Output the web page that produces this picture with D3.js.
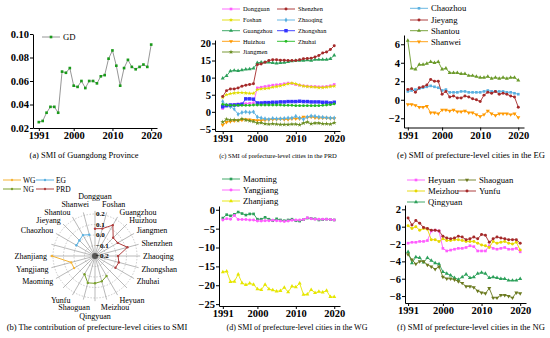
<!DOCTYPE html>
<html>
<head>
<meta charset="utf-8">
<script src="https://cdn.jsdelivr.net/npm/d3@7"></script>
<style>
  body { margin: 0; background: #fff; }
  text { font-family: "Liberation Serif", "Times New Roman", serif; }
</style>
</head>
<body>
<svg id="fig" width="550" height="338"></svg>
<script>
// years on every x axis
var years = [1991, 1992, 1993, 1994, 1995, 1996, 1997, 1998, 1999, 2000,
             2001, 2002, 2003, 2004, 2005, 2006, 2007, 2008, 2009, 2010,
             2011, 2012, 2013, 2014, 2015, 2016, 2017, 2018, 2019, 2020];
var yearTicks = [1991, 2000, 2010, 2020];

// (a) Guangdong
var gd = [0.025, 0.026, 0.033, 0.038, 0.038, 0.033, 0.068, 0.067, 0.071, 0.056,
          0.055, 0.060, 0.054, 0.060, 0.060, 0.058, 0.064, 0.065, 0.079, 0.086,
          0.073, 0.056, 0.071, 0.078, 0.072, 0.070, 0.072, 0.074, 0.072, 0.091];

// (c) PRD
var dongguan = [1.0, 1.8, 2.0, 2.2, 2.3, 2.4, 2.4, 2.5, 2.6, 7.0, 7.2, 7.4, 7.6, 7.8, 7.9,
                8.0, 8.2, 8.4, 8.3, 8.0, 7.8, 7.6, 7.5, 7.4, 7.4, 7.3, 7.3, 7.4, 7.6, 8.0];
var foshan = [4.2, 5.0, 5.3, 5.5, 5.6, 5.6, 5.5, 5.4, 5.4, 6.5, 6.7, 6.8, 6.9, 7.2, 7.4,
              7.6, 7.9, 8.2, 8.4, 8.2, 7.8, 7.5, 7.4, 7.3, 7.2, 7.1, 7.1, 7.2, 7.4, 7.5];
var guangzhou = [9.8, 10.5, 11.9, 12.1, 12.0, 12.2, 12.4, 12.5, 12.7, 14.3, 14.5, 14.5, 14.5, 14.3, 14.2,
                 14.3, 14.4, 14.6, 14.8, 15.0, 15.0, 15.0, 15.1, 15.0, 15.3, 15.3, 15.3, 15.3, 15.5, 16.5];
var huizhou = [-3.8, -3.0, -2.8, -2.6, -2.5, -2.4, -2.2, -2.3, -2.4, -2.5, -2.5, -2.4, -2.3, -2.2, -2.2,
               -2.1, -2.2, -2.2, -2.0, -2.0, -2.0, -1.5, -1.6, -1.5, -1.7, -1.8, -1.8, -1.8, -1.9, -1.9];
var jiangmen = [-3.0, -2.2, -2.4, -2.3, -2.5, -2.0, -2.4, -2.6, -2.8, -3.3, -3.2, -3.5, -3.6, -3.5, -3.6,
                -3.7, -3.7, -3.7, -3.6, -3.6, -3.8, -3.3, -3.0, -3.5, -3.3, -3.3, -3.5, -3.5, -3.6, -3.2];
var shenzhen = [4.5, 6.2, 6.7, 6.7, 7.0, 7.5, 7.8, 8.0, 8.2, 13.8, 14.0, 14.5, 15.0, 15.2, 15.2,
                15.1, 15.1, 15.0, 15.0, 15.0, 15.2, 15.5, 15.6, 15.7, 16.0, 16.5, 17.2, 17.5, 18.2, 19.3];
var zhaoqing = [3.0, 2.0, 1.5, 0.8, -0.7, -0.2, 0.0, -0.2, 0.0, -1.5, -1.8, -2.0, -2.2, -1.9, -2.0,
                -2.0, -1.9, -1.8, -1.8, -1.3, -1.8, -2.2, -1.5, -1.2, -1.3, -1.5, -1.6, -1.7, -1.8, -1.8];
var zhongshan = [1.5, 1.8, 2.0, 2.0, 2.1, 2.2, 3.8, 3.8, 3.7, 2.6, 2.6, 2.7, 2.7, 2.8, 2.8,
                 2.9, 2.9, 3.0, 3.0, 3.0, 3.1, 3.0, 3.0, 2.9, 2.9, 2.9, 2.8, 2.8, 2.6, 2.8];
var zhuhai = [2.2, 2.0, 1.9, 1.9, 1.9, 1.9, 1.9, 1.9, 2.0, 2.0, 2.0, 2.0, 2.0, 2.0, 2.0,
              2.0, 1.9, 1.9, 1.9, 1.8, 1.8, 1.8, 1.8, 1.8, 1.8, 1.8, 1.9, 2.0, 2.1, 2.3];

// (e) EG
var chaozhou = [0.9, 1.0, 1.1, 1.2, 1.3, 1.4, 1.5, 1.4, 1.3, 1.0, 1.1, 0.8, 0.8, 0.8, 0.9,
                0.9, 0.8, 0.8, 0.8, 0.8, 0.9, 1.0, 0.9, 0.9, 0.9, 0.9, 0.8, 0.8, 0.7, 0.6];
var jieyang = [1.1, 1.2, 0.8, 1.3, 1.4, 1.6, 2.2, 2.0, 2.0, 0.6, 0.9, 0.3, 0.4, 0.2, 0.2,
               0.4, 0.3, 0.1, 0.0, -0.2, 0.5, 0.8, 0.7, 0.9, 0.6, 0.7, 0.6, 0.4, 0.3, -0.8];
var shantou = [6.4, 3.4, 3.3, 3.8, 3.8, 3.9, 4.1, 4.0, 4.1, 3.3, 3.4, 2.9, 2.9, 2.9, 2.8,
               2.8, 2.6, 2.6, 2.5, 2.4, 2.4, 2.5, 2.3, 2.4, 2.3, 2.4, 2.3, 2.4, 2.4, 2.1];
var shanwei = [-0.5, -0.5, -0.6, -0.8, -0.8, -0.7, -1.4, -1.4, -1.5, -1.1, -1.1, -1.2, -1.1, -1.3, -1.3,
               -1.2, -1.4, -1.4, -1.6, -1.8, -1.6, -1.2, -1.5, -1.7, -1.5, -1.5, -1.5, -1.6, -1.5, -1.9];

// (d) WG
var maoming = [-2.2, -1.3, -1.6, -1.2, -0.6, -1.0, -1.4, -1.1, -1.1, -2.5, -2.5, -2.0, -2.5, -2.9, -2.4,
               -2.7, -2.9, -2.7, -2.5, -2.9, -3.0, -2.6, -2.2, -2.3, -2.4, -2.7, -2.6, -2.5, -2.6, -2.7];
var yangjiang = [-2.7, -2.4, -2.5, -1.5, -2.6, -2.6, -2.6, -2.7, -2.7, -3.0, -3.0, -2.9, -2.9, -2.8, -2.9,
                 -3.0, -3.1, -3.0, -2.8, -2.7, -2.7, -2.6, -2.1, -2.4, -2.5, -2.5, -2.5, -2.5, -2.6, -2.7];
var zhanjiang = [-16.5, -16.3, -19.1, -19.0, -17.1, -19.4, -19.9, -19.5, -19.8, -21.0, -21.2, -19.8, -21.0, -21.3, -21.6,
                 -21.5, -20.6, -21.8, -20.3, -20.5, -19.5, -22.5, -22.4, -21.2, -22.0, -21.7, -21.9, -21.4, -23.1, -23.1];

// (f) NG
var heyuan = [-1.9, -1.8, -1.8, -1.7, -1.7, -1.6, -0.5, -0.4, -0.5, -2.5, -2.8, -2.7, -2.6, -2.5, -2.5,
              -2.4, -2.2, -2.3, -2.8, -2.8, -2.8, -2.2, -2.5, -2.6, -2.5, -2.4, -2.6, -2.6, -2.5, -2.9];
var meizhou = [0.1, -0.2, 0.0, -0.4, -0.2, -0.3, -1.5, -1.5, -1.7, -1.4, -1.6, -1.6, -1.5, -1.5, -1.6,
               -1.7, -1.7, -1.7, -1.9, -2.1, -2.2, -2.4, -1.7, -1.9, -1.8, -1.7, -1.9, -2.0, -1.8, -2.7];
var qingyuan = [-2.9, -4.2, -3.5, -3.6, -4.1, -3.6, -3.9, -4.2, -4.3, -5.2, -5.4, -5.6, -5.9, -6.1, -5.8,
                -5.5, -5.9, -5.8, -5.4, -5.3, -5.4, -5.9, -5.8, -5.9, -6.0, -6.0, -6.2, -6.2, -6.2, -6.0];
var shaoguan = [-3.2, -3.8, -4.3, -4.0, -4.0, -4.4, -4.6, -4.9, -4.6, -5.8, -6.0, -6.0, -6.1, -6.3, -6.5,
                -6.9, -6.9, -7.0, -7.4, -7.6, -7.7, -7.1, -8.2, -8.2, -7.9, -7.9, -8.0, -8.2, -7.6, -7.7];
var yunfu = [1.0, 0.2, 0.7, 0.4, -0.1, -0.2, -0.4, -0.4, -0.5, -1.1, -1.3, -1.4, -1.3, -1.1, -1.2,
             -1.5, -1.4, -1.2, -1.4, -0.9, -1.0, -1.8, -1.4, -1.2, -1.3, -1.4, -1.5, -1.5, -1.5, -1.9];

// (b) radar: axes clockwise from top, "" = empty spoke between groups
var radarAxes = ["Dongguan", "Foshan", "Guangzhou", "Huizhou", "Jiangmen", "Shenzhen", "Zhaoqing", "Zhongshan", "Zhuhai", "",
                 "Heyuan", "Meizhou", "Qingyuan", "Shaoguan", "Yunfu", "",
                 "Maoming", "Yangjiang", "Zhanjiang", "",
                 "Chaozhou", "Jieyang", "Shantou", "Shanwei"];
var prdCities = ["Dongguan", "Foshan", "Guangzhou", "Huizhou", "Jiangmen", "Shenzhen", "Zhaoqing", "Zhongshan", "Zhuhai"];
var prdContrib = [0.06, 0.07, 0.14, 0.045, 0.05, 0.12, 0.02, 0.035, 0.025];
var ngCities = ["Heyuan", "Meizhou", "Qingyuan", "Shaoguan", "Yunfu"];
var ngContrib = [0.02, 0.05, 0.06, 0.065, 0.0];
var wgCities = ["Maoming", "Yangjiang", "Zhanjiang"];
var wgContrib = [0.03, 0.035, 0.21];
var egCities = ["Chaozhou", "Jieyang", "Shantou", "Shanwei"];
var egContrib = [0.005, 0.01, 0.03, 0.01];
var radarTicks = [-0.2, -0.1, 0.0, 0.1, 0.2];

var svg = d3.select("#fig");
var SERIF = '"Liberation Serif", "Times New Roman", serif';

function fitText(t, w) {
  t.attr("font-size", 10);
  var L = t.node().getComputedTextLength();
  t.attr("font-size", 10 * w / L);
}

function drawMarker(g, s, px, py) {
  g.append("path")
    .attr("d", d3.symbol(s.symbol, s.size || 7)())
    .attr("transform", "translate(" + px + "," + py + ") rotate(" + (s.rot || 0) + ")")
    .attr("fill", s.color);
}

function linePanel(p) {
  var x = d3.scaleLinear().domain(p.xDomain).range([p.left, p.right]);
  var y = d3.scaleLinear().domain(p.yDomain).range([p.bottom, p.top]);
  var g = svg.append("g");

  var ax = g.append("g").attr("transform", "translate(0," + p.bottom + ")")
    .call(d3.axisBottom(x).tickValues(yearTicks).tickFormat(d3.format("d"))
      .tickSize(3).tickSizeOuter(0).tickPadding(1));
  var ay = g.append("g").attr("transform", "translate(" + p.left + ",0)")
    .call(d3.axisLeft(y).tickValues(p.yTicks).tickFormat(p.fmt || d3.format("d"))
      .tickSize(3).tickSizeOuter(0).tickPadding(1));
  [ax, ay].forEach(function(a) {
    a.selectAll("text").attr("font-family", SERIF).attr("font-weight", "bold")
      .attr("font-size", 10.5).attr("fill", "#000");
    a.selectAll("line").attr("stroke", "#000");
    a.select(".domain").attr("stroke", "#000");
  });

  var line = d3.line().x(function(d, i) { return x(years[i]); }).y(function(d) { return y(d); });
  p.series.forEach(function(s) {
    g.append("path").datum(s.values).attr("d", line)
      .attr("fill", "none").attr("stroke", s.line || s.color).attr("stroke-width", 0.9);
    s.values.forEach(function(v, i) { drawMarker(g, s, x(years[i]), y(v)); });
  });

  p.series.forEach(function(s) {
    if (!s.leg) return;
    var lx = s.leg[0], ly = s.leg[1];
    g.append("line").attr("x1", lx).attr("x2", lx + 18).attr("y1", ly).attr("y2", ly)
      .attr("stroke", s.line || s.color).attr("stroke-width", 0.9);
    drawMarker(g, s, lx + 9, ly);
    g.append("text").attr("x", lx + 21).attr("y", ly).attr("dy", "0.35em")
      .attr("font-size", p.legendSize).attr("fill", "#000").text(s.name);
  });

  var t = g.append("text").attr("x", p.title[1]).attr("y", p.title[2])
    .attr("text-anchor", "middle").attr("fill", "#000").text(p.title[0]);
  fitText(t, p.title[3]);
}

var SQ = d3.symbolSquare, TRI = d3.symbolTriangle, CIR = d3.symbolCircle,
    DIA = d3.symbolDiamond, STAR = d3.symbolStar;

// (a)
linePanel({
  left: 33, right: 157, top: 34, bottom: 128,
  xDomain: [1989.5, 2021.5], yDomain: [0.02, 0.10],
  yTicks: [0.02, 0.04, 0.06, 0.08, 0.10], fmt: d3.format(".2f"),
  legendSize: 8.7,
  series: [{ name: "GD", values: gd, color: "#1a9a1a", line: "#8a8a8a", symbol: SQ, leg: [42, 37] }],
  title: ["(a) SMI of Guangdong Province", 84, 158, 109]
});

// (c)
linePanel({
  left: 215, right: 340, top: 40, bottom: 131,
  xDomain: [1989, 2021.5], yDomain: [-5.6, 21],
  yTicks: [-5, 0, 5, 10, 15, 20],
  legendSize: 6.4,
  series: [
    { name: "Dongguan", values: dongguan, color: "#ff5cff", symbol: SQ, leg: [222, 9] },
    { name: "Foshan", values: foshan, color: "#e0dc00", symbol: STAR, size: 6, leg: [222, 20] },
    { name: "Guangzhou", values: guangzhou, color: "#2ca05a", symbol: TRI, leg: [222, 30.7] },
    { name: "Huizhou", values: huizhou, color: "#ff9900", symbol: TRI, rot: 180, leg: [222, 41.3] },
    { name: "Jiangmen", values: jiangmen, color: "#6b8e23", symbol: STAR, leg: [222, 52] },
    { name: "Shenzhen", values: shenzhen, color: "#a52a2a", symbol: CIR, leg: [277, 9] },
    { name: "Zhaoqing", values: zhaoqing, color: "#5ab0e0", symbol: DIA, leg: [277, 20] },
    { name: "Zhongshan", values: zhongshan, color: "#3333ff", symbol: SQ, size: 12, leg: [277, 30.7] },
    { name: "Zhuhai", values: zhuhai, color: "#22bb22", symbol: CIR, size: 6, leg: [277, 41.3] }
  ],
  title: ["(c) SMI of prefecture-level cities in the PRD", 278, 158, 118]
});

// (e)
linePanel({
  left: 404, right: 524, top: 35, bottom: 127.5,
  xDomain: [1990, 2021.5], yDomain: [-3, 7],
  yTicks: [-2, 0, 2, 4, 6],
  legendSize: 8.7,
  series: [
    { name: "Chaozhou", values: chaozhou, color: "#5ab0e0", symbol: SQ, leg: [410, 8.3] },
    { name: "Jieyang", values: jieyang, color: "#a52a2a", symbol: CIR, leg: [410, 20] },
    { name: "Shantou", values: shantou, color: "#6b9a2a", symbol: TRI, leg: [410, 30.7] },
    { name: "Shanwei", values: shanwei, color: "#ff9900", symbol: TRI, rot: 180, leg: [410, 41.7] }
  ],
  title: ["(e) SMI of prefecture-level cities in the EG", 471, 158, 148]
});

// (d)
linePanel({
  left: 219, right: 340, top: 206, bottom: 306,
  xDomain: [1990, 2021.5], yDomain: [-25.5, 1],
  yTicks: [-25, -20, -15, -10, -5, 0],
  legendSize: 8.7,
  series: [
    { name: "Maoming", values: maoming, color: "#2ca05a", symbol: SQ, leg: [222, 179] },
    { name: "Yangjiang", values: yangjiang, color: "#ff5cff", symbol: CIR, leg: [222, 190] },
    { name: "Zhanjiang", values: zhanjiang, color: "#e6e600", symbol: TRI, leg: [222, 201] }
  ],
  title: ["(d) SMI of prefecture-level cities in the WG", 297, 330, 141]
});

// (f)
linePanel({
  left: 405, right: 526, top: 205, bottom: 303,
  xDomain: [1990.2, 2021.5], yDomain: [-8.8, 2.5],
  yTicks: [-8, -6, -4, -2, 0, 2],
  legendSize: 8.7,
  series: [
    { name: "Heyuan", values: heyuan, color: "#ff5cff", symbol: SQ, leg: [407, 180] },
    { name: "Meizhou", values: meizhou, color: "#e6d800", symbol: CIR, leg: [407, 191] },
    { name: "Qingyuan", values: qingyuan, color: "#2ca05a", symbol: TRI, leg: [407, 202] },
    { name: "Shaoguan", values: shaoguan, color: "#6b7a20", symbol: TRI, rot: 180, leg: [458, 180] },
    { name: "Yunfu", values: yunfu, color: "#a52a2a", symbol: CIR, leg: [458, 191] }
  ],
  title: ["(f) SMI of prefecture-level cities in the NG", 471, 330, 148]
});

// (b) radar
(function() {
  var cx = 95, cy = 256;
  var g = svg.append("g");
  var r = d3.scaleLinear().domain([-0.2, 0.2]).range([0, 42]);
  var ang = d3.scaleLinear().domain([0, radarAxes.length]).range([0, 2 * Math.PI]);

  radarTicks.slice(1).forEach(function(t) {
    g.append("circle").attr("cx", cx).attr("cy", cy).attr("r", r(t))
      .attr("fill", "none").attr("stroke", "#aaa").attr("stroke-width", 0.6)
      .attr("stroke-dasharray", "1.5,1.5");
  });
  radarAxes.forEach(function(name, i) {
    var a = ang(i), R = r(0.23);
    g.append("line").attr("x1", cx).attr("y1", cy)
      .attr("x2", cx + R * Math.sin(a)).attr("y2", cy - R * Math.cos(a))
      .attr("stroke", "#8a8a8a").attr("stroke-width", 0.6);
  });
  g.append("circle").attr("cx", cx).attr("cy", cy).attr("r", 3).attr("fill", "#555");

  radarTicks.forEach(function(t) {
    g.append("text").attr("x", cx + 1).attr("y", cy - r(t)).attr("dy", "0.35em")
      .attr("font-size", 7).attr("font-weight", "bold").attr("fill", "#000")
      .text(d3.format(".1f")(t));
  });

  var groups = [
    { cities: wgCities, vals: wgContrib, color: "#f5b335" },
    { cities: egCities, vals: egContrib, color: "#5ab0e0" },
    { cities: ngCities, vals: ngContrib, color: "#7aa02c" },
    { cities: prdCities, vals: prdContrib, color: "#b04040" }
  ];
  var radial = d3.lineRadial()
    .angle(function(d) { return ang(radarAxes.indexOf(d[0])); })
    .radius(function(d) { return r(d[1]); });
  groups.forEach(function(gr) {
    var pts = gr.cities.map(function(c, i) { return [c, gr.vals[i]]; });
    g.append("path").datum(pts).attr("d", radial)
      .attr("transform", "translate(" + cx + "," + cy + ")")
      .attr("fill", "none").attr("stroke", gr.color).attr("stroke-width", 1);
    pts.forEach(function(d) {
      var a = ang(radarAxes.indexOf(d[0])), rr = r(d[1]);
      g.append("circle").attr("cx", cx + rr * Math.sin(a)).attr("cy", cy - rr * Math.cos(a))
        .attr("r", 1.2).attr("fill", gr.color);
    });
  });

  // city labels, pushed out from the spoke ends
  radarAxes.forEach(function(name, i) {
    if (!name) return;
    var a = ang(i), s = Math.sin(a), c = Math.cos(a), R = 47;
    var t = g.append("text").attr("font-size", 8).attr("fill", "#000")
      .attr("text-anchor", "middle").attr("dy", "0.35em").text(name);
    var w = t.node().getComputedTextLength();
    var sg = s > 0.01 ? 1 : (s < -0.01 ? -1 : 0);
    var px = cx + R * s + sg * (w / 2 + 1) * Math.min(1, 2 * Math.abs(s));
    var py = cy - R * c - 4 * c;
    if (Math.abs(s) < 0.05) py -= 9 * c;
    else if (Math.abs(c) > 0.95) py -= 2.5 * c;
    t.attr("x", px).attr("y", py);
  });

  // legend
  var leg = [["WG", "#f5b335", 3, 180], ["EG", "#5ab0e0", 36, 180],
             ["NG", "#7aa02c", 3, 189], ["PRD", "#b04040", 36, 189]];
  leg.forEach(function(l) {
    g.append("line").attr("x1", l[2]).attr("x2", l[2] + 18).attr("y1", l[3]).attr("y2", l[3])
      .attr("stroke", l[1]).attr("stroke-width", 1);
    g.append("circle").attr("cx", l[2] + 9).attr("cy", l[3]).attr("r", 1.2).attr("fill", l[1]);
    g.append("text").attr("x", l[2] + 20).attr("y", l[3]).attr("dy", "0.35em")
      .attr("font-size", 7.5).attr("fill", "#000").text(l[0]);
  });

  var tt = g.append("text").attr("x", 97).attr("y", 330).attr("text-anchor", "middle")
    .attr("fill", "#000").text("(b) The contribution of prefecture-level cities to SMI");
  fitText(tt, 181);
})();
</script>
</body>
</html>
